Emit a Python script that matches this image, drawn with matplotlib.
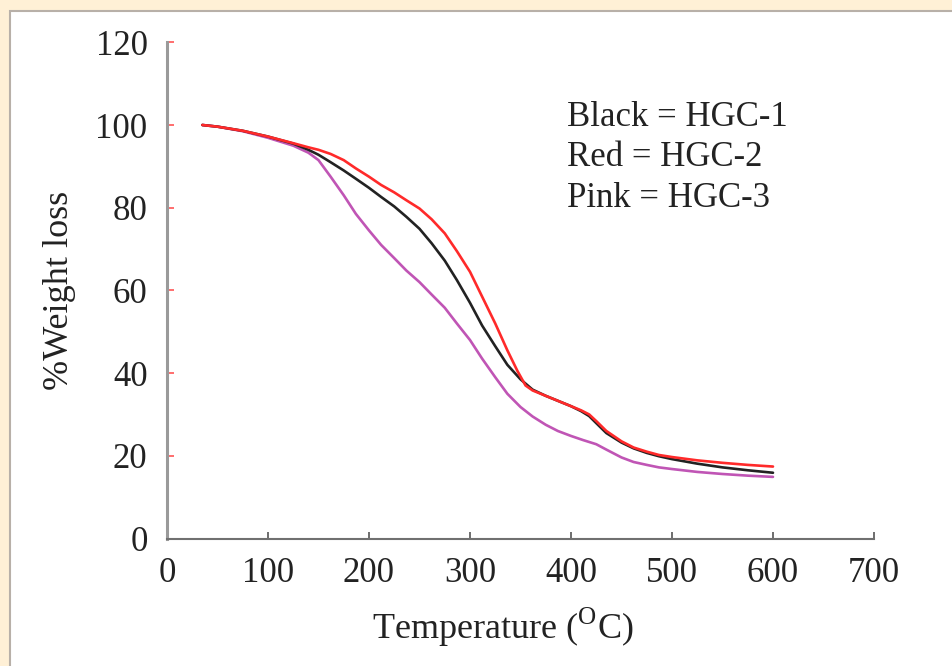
import matplotlib
matplotlib.use("Agg")
import matplotlib.pyplot as plt
from matplotlib.patches import Rectangle

plt.rcParams['font.family'] = ['Liberation Serif', 'DejaVu Serif']
plt.rcParams['mathtext.fontset'] = 'custom'
plt.rcParams['mathtext.rm'] = 'Liberation Serif'

# Data
temp_black = [35, 50, 75, 100, 125, 140, 150, 162, 175, 187, 200, 212, 225, 237, 250, 262, 275, 287, 300,
              312, 325, 337, 350, 362, 375, 387, 400, 410, 418, 425, 435, 450, 462, 475, 487, 500, 525, 550, 575, 600]
w_black = [100, 99.6, 98.6, 97.2, 95.5, 94, 92.8, 91, 89, 87, 84.8, 82.6, 80.3, 77.8, 74.9, 71.4, 67.2, 62.5, 57,
           51.5, 46.5, 42, 38.5, 36, 34.5, 33.3, 32, 30.8, 29.6, 27.9, 25.5, 23.2, 21.8, 20.7, 19.9, 19.2, 18.1, 17.2, 16.5, 15.9]

temp_red = [35, 50, 75, 100, 125, 140, 150, 162, 175, 187, 200, 212, 225, 237, 250, 262, 275, 287, 300,
            312, 325, 337, 347, 355, 362, 375, 387, 400, 410, 418, 425, 435, 450, 462, 475, 487, 500, 525, 550, 575, 600]
w_red = [100, 99.6, 98.6, 97.2, 95.6, 94.6, 94, 93, 91.5, 89.5, 87.5, 85.5, 83.7, 81.8, 79.8, 77.2, 73.8, 69.5, 64.5,
         58.5, 52, 45.5, 40.5, 37, 35.8, 34.5, 33.3, 32, 31, 30, 28.4, 26, 23.5, 22, 21, 20.2, 19.7, 18.9, 18.3, 17.8, 17.4]

temp_pink = [35, 50, 75, 100, 125, 140, 150, 162, 175, 187, 200, 212, 225, 237, 250, 262, 275, 287, 300,
             312, 325, 337, 350, 362, 375, 387, 400, 412, 425, 435, 450, 462, 475, 487, 500, 525, 550, 575, 600]
w_pink = [100, 99.6, 98.5, 96.9, 95, 93.3, 91.5, 87.5, 83, 78.5, 74.5, 71, 67.8, 64.8, 62, 59, 55.8, 52, 48,
          43.5, 39, 35, 31.8, 29.5, 27.5, 26, 24.8, 23.8, 22.8, 21.5, 19.6, 18.5, 17.8, 17.2, 16.8, 16.1, 15.6, 15.2, 14.9]

x_ticks = [0, 100, 200, 300, 400, 500, 600, 700]
y_ticks = [0, 20, 40, 60, 80, 100, 120]
legend_lines = ["Black = HGC-1", "Red = HGC-2", "Pink = HGC-3"]

W, H = 953, 666
fig = plt.figure(figsize=(W / 100, H / 100), dpi=100)
fig.patch.set_facecolor('#FFF0D6')

# white panel with grey border top/left
panel = Rectangle((10 / W, -0.01), 1.0, (H - 11) / H + 0.01, transform=fig.transFigure,
                  facecolor='white', edgecolor='#B8B0A8', linewidth=1.5, zorder=-10)
fig.patches.append(panel)

ax = fig.add_axes([167 / W, 127.5 / H, (874 - 167) / W, (538.5 - 42.3) / H])
ax.set_facecolor('none')
ax.set_zorder(5)

kw = dict(lw=1.9, solid_joinstyle='round', solid_capstyle='round')
ax.plot(temp_black, w_black, color='#222222', zorder=3, **kw)
ax.plot(temp_red, w_red, color='#FF2A2A', zorder=4, **kw)
ax.plot(temp_pink, w_pink, color='#C055B5', zorder=2, **kw)

ax.set_xlim(0, 700)
ax.set_ylim(0, 120)
ax.set_xticks(x_ticks)
ax.set_yticks(y_ticks)

for s in ['top', 'right']:
    ax.spines[s].set_visible(False)
ax.spines['left'].set_color('#9A9A9A')
ax.spines['left'].set_linewidth(2.2)
ax.spines['bottom'].set_color('#707070')
ax.spines['bottom'].set_linewidth(1.5)

ax.tick_params(axis='x', direction='in', length=5, width=1.2, color='#555555',
               labelsize=25, pad=13, labelcolor='#222222')
ax.tick_params(axis='y', direction='in', length=5, width=1.2, color='#FF5555',
               labelsize=25, pad=14, labelcolor='#222222')

ax.set_xlabel(r'Temperature ($^{\rm O}$C)', fontsize=26, color='#222222')
ax.xaxis.set_label_coords(0.475, -0.135)
ax.set_ylabel('%Weight loss', fontsize=26, color='#222222')
ax.yaxis.set_label_coords(-0.129, 0.5)

for i, t in enumerate(legend_lines):
    fig.text(567 / W, 1 - (118 + 40 * i) / H, t, fontsize=25, color='#222222',
             ha='left', va='center')

fig.savefig('out.png', dpi=100, facecolor=fig.get_facecolor())
